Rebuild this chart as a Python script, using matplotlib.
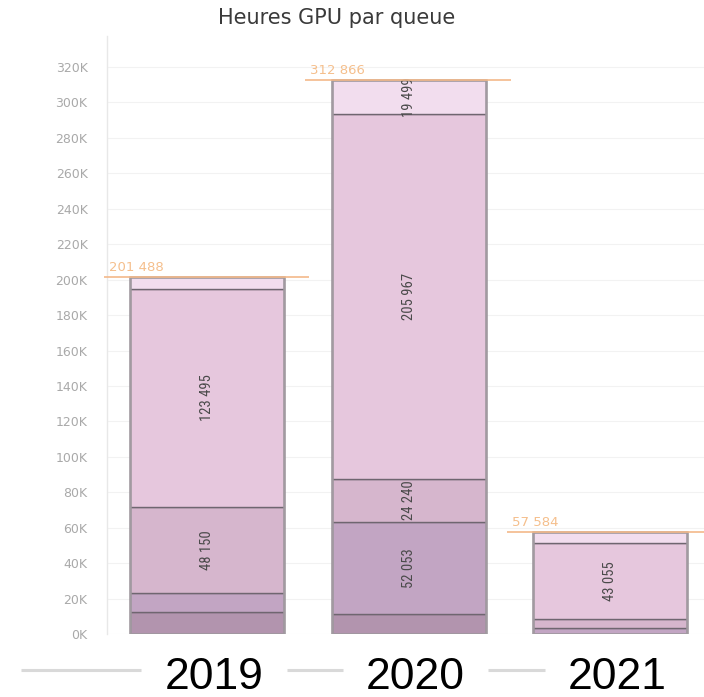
import matplotlib
matplotlib.use("Agg")
import matplotlib.pyplot as plt
from matplotlib import font_manager as fm
import numpy as np

# ---- data ----
years = ["2019", "2020", "2021"]
queue1 = [12300, 11107, 0]
queue2 = [11000, 52053, 3200]
queue3 = [48150, 24240, 5200]
queue4 = [123495, 205967, 43055]
queue5 = [6543, 19499, 6129]
totals = [201488, 312866, 57584]
total_labels = ["201 488", "312 866", "57 584"]
seg_labels = {
    (0, 2): "48 150", (0, 3): "123 495",
    (1, 1): "52 053", (1, 2): "24 240", (1, 3): "205 967", (1, 4): "19 499",
    (2, 3): "43 055",
}
yticks = list(range(0, 320001, 20000))
ytick_labels = [f"{v // 1000}K" for v in yticks]
title = "Heures GPU par queue"

colors = ["#b294ae", "#c2a5c3", "#d6b6cd", "#e6c7dd", "#f2ddee"]

# pick a narrow font if one is available
names = {f.name for f in fm.fontManager.ttflist}
cond = [f for f in fm.fontManager.ttflist if f.stretch in ("condensed", "semi-condensed", "extra-condensed")]
narrow_family = None
for cand in ["Liberation Sans Narrow", "Roboto Condensed", "Open Sans Condensed", "DejaVu Sans Condensed"]:
    if cand in names:
        narrow_family = cand
        break
seg_font = dict(family=[narrow_family] if narrow_family else ["Roboto"], fontsize=10.5)
if narrow_family is None and cond:
    seg_font = dict(fontproperties=fm.FontProperties(fname=cond[0].fname, size=10.5))

W, H = 704, 697
fig = plt.figure(figsize=(W / 100, H / 100), dpi=100)
ax = fig.add_axes([107 / W, 1 - 634 / H, (704 - 107) / W, (634 - 36) / H])

x = np.arange(len(years))
width = 0.764
series = [queue1, queue2, queue3, queue4, queue5]
bottom = np.zeros(len(years))
for i, s in enumerate(series):
    s = np.array(s, dtype=float)
    bars = ax.bar(x, s, width, bottom=bottom, color=colors[i], edgecolor="#6f6670",
                  linewidth=1.0, zorder=3)
    for j in range(len(years)):
        if (j, i) in seg_labels:
            t = ax.text(x[j], bottom[j] + s[j] / 2, seg_labels[(j, i)], rotation=90,
                        ha="center", va="center", color="#4a4a4a", zorder=5,
                        **seg_font)
            t.set_clip_path(bars.patches[j])
    bottom += s

ax.bar(x, totals, width, fill=False, edgecolor="#a19aa0", linewidth=1.8, zorder=4)

for j, t in enumerate(totals):
    x0 = x[j] - width / 2 - 0.13
    x1 = x[j] + width / 2 + 0.125
    ax.plot([x0, x1], [t, t], color="#f3b98a", lw=1.2, zorder=6, clip_on=False,
            solid_capstyle="butt")
    ax.text(x0 + 0.025, t + 1500, total_labels[j], ha="left", va="bottom",
            fontsize=9.5, color="#f5bf8c", zorder=6)

ax.set_xlim(-0.496, 2.466)
ax.set_ylim(0, 337500)
ax.set_yticks(yticks)
ax.set_yticklabels(ytick_labels)
ax.tick_params(axis="y", length=0, pad=14, labelsize=9, labelcolor="#a9a9a9")
ax.set_xticks([])
ax.grid(axis="y", color="#f2f2f2", lw=0.8, zorder=0)
for sp in ["top", "right", "bottom"]:
    ax.spines[sp].set_visible(False)
ax.spines["left"].set_color("#e8e8e8")
ax.spines["left"].set_linewidth(1.0)

fig.text(337 / W, 1 - 18 / H, title, ha="center", va="center", fontsize=15,
         color="#3a3a3a")

# separator line under the chart, interrupted behind the year labels
gap_half = 0.36
label_shift = 0.035
edges = [-0.923]
for j in range(len(years)):
    edges += [x[j] + label_shift - gap_half, x[j] + label_shift + gap_half]
edges.append(2.397)
trans = ax.get_xaxis_transform()
for k in range(0, len(edges), 2):
    ax.plot([edges[k], edges[k + 1]], [-0.0602, -0.0602], transform=trans,
            color="#d9d9d9", lw=2.2, clip_on=False, solid_capstyle="butt")
for j, yr in enumerate(years):
    ax.text(x[j] + label_shift, -0.092, yr, transform=trans,
            ha="center", va="baseline", fontsize=32, family="Liberation Sans",
            color="black", clip_on=False)

fig.savefig("out.png", dpi=100)
